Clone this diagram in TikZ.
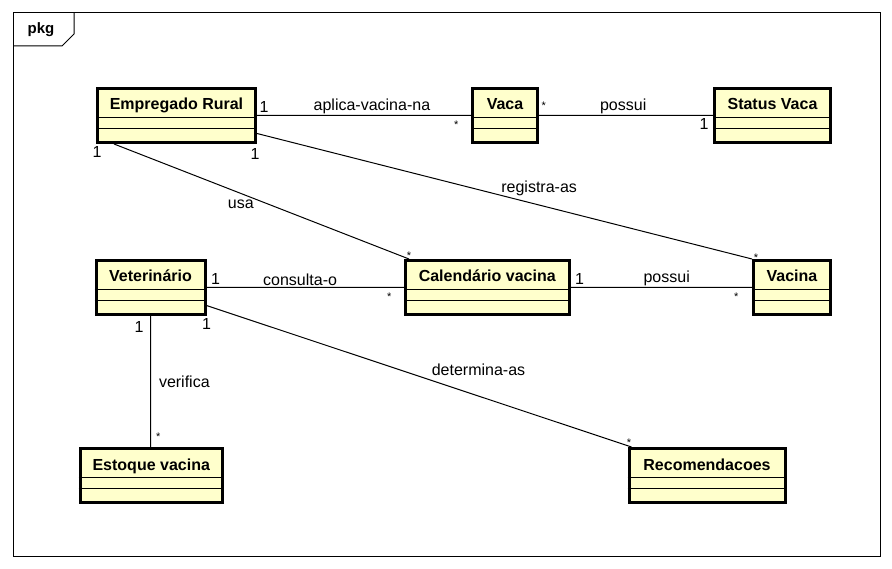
\documentclass[tikz,border=0pt]{standalone}
\usepackage{fontspec}
\setmainfont{Liberation Sans}
\usetikzlibrary{calc}

\definecolor{classfill}{RGB}{255,255,204}

\tikzset{
    classbox/.style={draw, line width=3pt, fill=classfill, minimum height=54pt, inner sep=0pt},
    classname/.style={font=\fontsize{16}{19}\selectfont\bfseries, anchor=base, inner sep=0pt},
    assoc/.style={line width=1pt},
    lbl/.style={font=\fontsize{16}{19}\selectfont, inner sep=1pt},
    mult/.style={font=\fontsize{16}{19}\selectfont, inner sep=2pt},
    many/.style={font=\fontsize{11}{13}\selectfont, inner sep=2pt},
}

% class box with name and two empty compartments
\newcommand{\umlclass}[5]{%
    \node[classbox, minimum width=#4] (#1) at (#2,#3) {};
    \node[classname] (#1-name) at ([yshift=-23]#1.north) {#5};
    \draw ([yshift=-30]#1.north west) -- ([yshift=-30]#1.north east)
          ([yshift=-41]#1.north west) -- ([yshift=-41]#1.north east);
}

\begin{document}
\begin{tikzpicture}[x=1pt, y=-1pt]
        \fill[white] (0,0) rectangle (892,569);
        \useasboundingbox (0,0) rectangle (892,569);

        % package frame
        \draw[line width=1pt] (13,13) rectangle (880,556);
        \draw[line width=1pt] (13,46) -- (62,46) -- (74,34) -- (74,13);
        \node[font=\fontsize{15}{18}\selectfont\bfseries] (pkg) at (41,30) {pkg};

        \umlclass{emp}{176.5}{115.5}{158}{Empregado Rural}
        \umlclass{vaca}{505}{115.5}{65}{Vaca}
        \umlclass{stat}{772.5}{115.5}{116}{Status Vaca}
        \umlclass{vet}{150.5}{287.5}{109}{Veterin\'ario}
        \umlclass{cal}{487.25}{287.5}{163.5}{Calend\'ario vacina}
        \umlclass{vac}{792}{287.5}{77}{Vacina}
        \umlclass{est}{151.25}{475.5}{142.5}{Estoque vacina}
        \umlclass{rec}{707}{475.5}{156}{Recomendacoes}

        \draw[assoc]
            (emp.east) -- node[lbl, above, pos=0.537]{aplica-vacina-na}
                node[mult, pos=0, anchor=south west]{1}
                node[many, pos=1, anchor=north east, xshift=-10, yshift=-3]{*} (vaca.west)
            (vaca.east) -- node[lbl, above, pos=0.484]{possui}
                node[many, pos=0, anchor=south west, yshift=3]{*}
                node[mult, pos=1, anchor=north east, xshift=-2]{1} (stat.west)
            ([xshift=18]emp.south west) -- node[lbl, pos=0.43, below=5pt]{usa}
                node[mult, pos=0, anchor=north east, xshift=-10]{1}
                node[many, pos=1, yshift=3]{*} ([xshift=5]cal.north west)
            ([yshift=-18]emp.east) -- node[lbl, pos=0.57, above=8pt]{registra-as}
                node[mult, pos=0, anchor=north, xshift=-2, yshift=-12.5]{1}
                node[many, pos=1, xshift=4, yshift=1]{*} (vac.north west)
            (vet.east) -- node[lbl, above, pos=0.474]{consulta-o}
                node[mult, pos=0, anchor=south west, xshift=2]{1}
                node[many, pos=1, anchor=north east, xshift=-10, yshift=-3]{*} (cal.west)
            (cal.east) -- node[lbl, above, pos=0.53]{possui}
                node[mult, pos=0, anchor=south west, xshift=2]{1}
                node[many, pos=1, anchor=north east, xshift=-11, yshift=-3]{*} (vac.west)
            (vet.south) -- node[lbl, pos=0.5, anchor=west, xshift=7]{verifica}
                node[mult, pos=0, anchor=north east, xshift=-4.5, yshift=-3]{1}
                node[many, pos=1, anchor=south west, xshift=3, yshift=4]{*} (vet.south |- est.north)
            ([yshift=-18]vet.east) -- node[lbl, pos=0.64, above=19pt]{determina-as}
                node[mult, pos=0, anchor=north, yshift=-10]{1}
                node[many, pos=1, xshift=-2.5, yshift=4.6]{*} ([xshift=4]rec.north west)
            ;
    \end{tikzpicture}
\end{document}
